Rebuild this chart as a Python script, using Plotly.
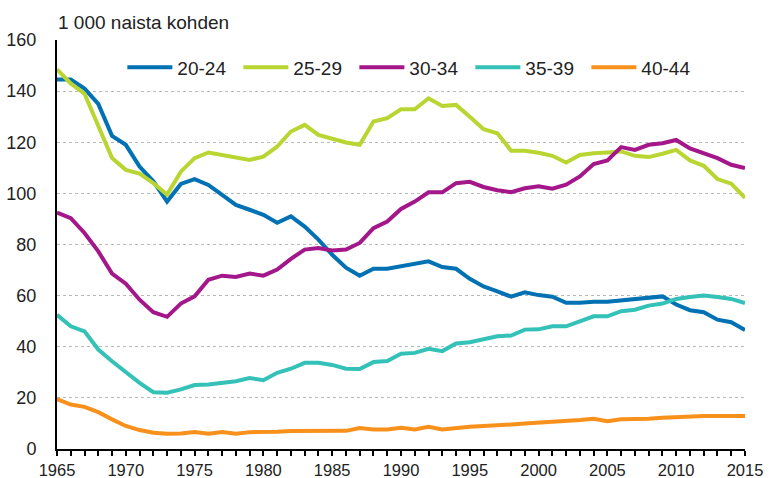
import plotly.graph_objects as go

years = list(range(1965, 2016))

a20_24 = [144.5, 144.5, 141, 135, 122.5, 119, 110.5, 104.7, 96.8, 103.7,
          105.6, 103.3, 99.4, 95.5, 93.6, 91.6, 88.5, 91, 87, 81.9,
          76, 70.9, 67.8, 70.5, 70.5, 71.5, 72.1, 73.4, 71.2, 70.5,
          66.6, 63.6, 61.7, 59.6, 61.3, 60.2, 59.6, 57.2, 57.2, 57.6,
          57.6, 58.2, 58.8, 59.1, 59.7, 56.5, 54.3, 53.5, 50.6, 49.6,
          46.5]
a25_29 = [148.5, 143, 139, 126, 113.8, 109.2, 107.7, 104, 99.5, 108.5,
          113.8, 116, 115, 113.8, 113.1, 114.4, 118.3, 124.2, 126.8, 122.9,
          121.2, 119.9, 119, 128.1, 129.4, 132.9, 132.9, 137.2, 134.2, 134.6,
          130, 125.1, 123.5, 116.7, 116.7, 115.9, 114.7, 112.1, 115, 115.7,
          116, 116.4, 114.7, 114.2, 115.5, 117, 112.9, 110.8, 105.6, 103.8,
          98.2]
a30_34 = [92.5, 90.3, 84.5, 77.3, 68.6, 64.7, 58.4, 53.5, 51.7, 56.9,
          59.7, 66.2, 67.8, 67.3, 68.6, 67.8, 70.2, 74.4, 78, 78.6,
          77.7, 78, 80.6, 86.4, 89, 93.9, 96.8, 100.4, 100.4, 104,
          104.5, 102.5, 101.2, 100.5, 102, 102.8, 101.8, 103.4, 106.6, 111.5,
          112.9, 118.1, 117, 119, 119.6, 120.9, 117.6, 115.5, 113.8, 111.2,
          109.9]
a35_39 = [52.5, 48, 46, 38.9, 34.3, 30, 25.9, 22.2, 22, 23.3,
          25, 25.2, 25.9, 26.5, 27.8, 26.9, 29.8, 31.4, 33.7, 33.7,
          32.9, 31.4, 31.3, 34, 34.4, 37.3, 37.6, 39.2, 38.3, 41.3,
          41.8, 43.1, 44.1, 44.4, 46.7, 46.8, 48, 48, 50, 51.9,
          51.9, 53.9, 54.5, 56.1, 56.9, 58.7, 59.5, 60, 59.5, 58.7,
          57.1]
a40_44 = [19.5, 17.4, 16.5, 14.4, 11.6, 9, 7.4, 6.4, 6, 6.1,
          6.6, 6, 6.6, 6, 6.6, 6.6, 6.7, 7, 7, 7,
          7, 7.1, 8.2, 7.6, 7.6, 8.3, 7.6, 8.7, 7.6, 8.3,
          8.7, 9, 9.2, 9.6, 10, 10.3, 10.6, 10.7, 11.3, 11.8,
          10.9, 11.6, 11.6, 11.8, 12.2, 12.5, 12.9, 12.9, 12.9, 12.9,
          12.9]

series_names = ["20-24", "25-29", "30-34", "35-39", "40-44"]
series_values = [a20_24, a25_29, a30_34, a35_39, a40_44]
colors = ["#0071b3", "#b9d531", "#a3178b", "#34c1b7", "#f8901c"]

x_tickvals = [1965, 1970, 1975, 1980, 1985, 1990, 1995, 2000, 2005, 2010, 2015]
y_tickvals = [0, 20, 40, 60, 80, 100, 120, 140, 160]

fig = go.Figure()
for name, vals, col in zip(series_names, series_values, colors):
    fig.add_trace(go.Scatter(x=years, y=vals, mode="lines", name=name,
                             line=dict(color=col, width=4)))

fig.update_layout(
    width=770, height=478,
    margin=dict(l=57, r=25, t=40, b=29, autoexpand=False),
    paper_bgcolor="white", plot_bgcolor="white",
    font=dict(family="Liberation Sans, Arial, sans-serif", size=18, color="#222"),
    showlegend=True,
    legend=dict(orientation="h", x=0.095, y=0.933, xanchor="left", yanchor="middle",
                font=dict(size=19, color="#222"), bgcolor="rgba(0,0,0,0)",
                itemwidth=45,
                entrywidth=56, entrywidthmode="pixels", traceorder="normal"),
    xaxis=dict(range=[1965, 2015], tickmode="array", tickvals=x_tickvals,
               automargin=False,
               showgrid=False, zeroline=False, showline=True, linecolor="black", linewidth=2,
               ticks="outside", ticklen=5, tickcolor="black", tickwidth=1.5,
               minor=dict(ticks="outside", ticklen=5, tickcolor="black", tickwidth=1.5,
                          dtick=1, tick0=1965),
               tickfont=dict(size=16.5, color="#222")),
    yaxis=dict(range=[0, 160], tickmode="array", tickvals=y_tickvals,
               automargin=False,
               showgrid=True, gridcolor="#b8b8b8", griddash="dot", gridwidth=1,
               zeroline=False, showline=True, linecolor="black", linewidth=2,
               ticks="", ticklabelstandoff=15,
               tickfont=dict(size=18, color="#222")),
    annotations=[dict(text="1 000 naista kohden", xref="paper", yref="paper",
                      x=0.0, y=1.0, xanchor="left", yanchor="bottom", yshift=5, xshift=-1,
                      showarrow=False, font=dict(size=19, color="#222"))],
)

fig.write_html("out.html", config={"displayModeBar": False},
               post_script="document.body.style.margin='0';document.body.style.overflow='hidden';")
